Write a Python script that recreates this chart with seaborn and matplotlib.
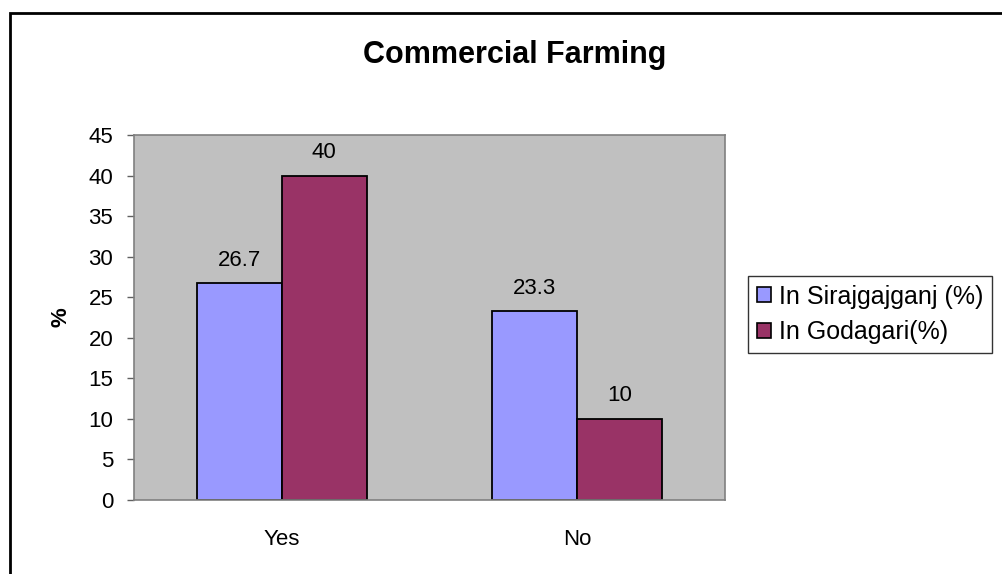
import matplotlib
matplotlib.use("Agg")
import matplotlib.pyplot as plt
import seaborn as sns
import pandas as pd
from matplotlib.patches import Rectangle

# data
categories = ["Yes", "No"]
series = ["In Sirajgajganj (%)", "In Godagari(%)"]
sirajganj = [26.7, 23.3]
godagari = [40, 10]
colors = ["#9999FF", "#993366"]

df = pd.DataFrame({
    "answer": categories * 2,
    "place": [series[0]] * 2 + [series[1]] * 2,
    "value": sirajganj + godagari,
})

sns.set_style("white")
plt.rcParams["font.family"] = ["Liberation Sans", "DejaVu Sans"]
plt.rcParams["text.color"] = "black"
plt.rcParams["axes.labelcolor"] = "black"
plt.rcParams["xtick.labelcolor"] = "black"
plt.rcParams["ytick.labelcolor"] = "black"

fs = 16
fig = plt.figure(figsize=(10.02, 5.74), dpi=100)
ax = fig.add_axes([134 / 1002, 1 - 500 / 574, 591 / 1002, 365 / 574])
ax.set_facecolor("#C0C0C0")

sns.barplot(data=df, x="answer", y="value", hue="place", order=categories,
            hue_order=series, palette=colors, width=0.575, edgecolor="black",
            linewidth=1.3, saturation=1, ax=ax)

for cont in ax.containers:
    ax.bar_label(cont, fmt="%g", padding=9, fontsize=fs, color="black")

ax.set_ylim(0, 45)
ax.set_yticks(range(0, 46, 5))
ax.set_xlim(-0.5, 1.5)
ax.set_xticks([0, 1])
ax.set_xticklabels(categories)
ax.set_xticks([-0.5, 0.5, 1.5], minor=True)
ax.tick_params(axis="x", which="major", length=0, pad=21, labelsize=fs, labelcolor="black")
ax.tick_params(axis="x", which="minor", length=5, width=1, color="#606060", direction="out")
ax.tick_params(axis="y", length=5, width=1, color="#606060", direction="out",
               labelsize=fs, left=True, pad=10, labelcolor="black")
ax.set_xlabel("")
ax.set_ylabel("%", fontsize=fs, fontweight="bold", labelpad=12, color="black")

for side in ax.spines:
    ax.spines[side].set_color("#808080")
    ax.spines[side].set_linewidth(1.2)

ax.legend_.remove()
handles = [Rectangle((0, 0), 1, 1, facecolor=c, edgecolor="black", linewidth=1.2) for c in colors]
leg = fig.legend(handles, series, loc="upper left", bbox_to_anchor=(748 / 1002, 1 - 276 / 574),
                 frameon=True, fancybox=False, fontsize=18, handlelength=0.55, handleheight=0.55,
                 handletextpad=0.35, borderpad=0.35, labelspacing=0.45, borderaxespad=0)
leg.get_frame().set_edgecolor("black")
leg.get_frame().set_linewidth(1)

fig.suptitle("Commercial Farming", x=515 / 1002, y=1 - 40 / 574, fontsize=22,
             fontweight="bold", color="black")

# chart frame
fig.patches.append(Rectangle((10 / 1002, -0.05), 1.1, 1 - 13 / 574 + 0.05, transform=fig.transFigure,
                             fill=False, edgecolor="black", linewidth=2))

fig.savefig("out.png", dpi=100)
